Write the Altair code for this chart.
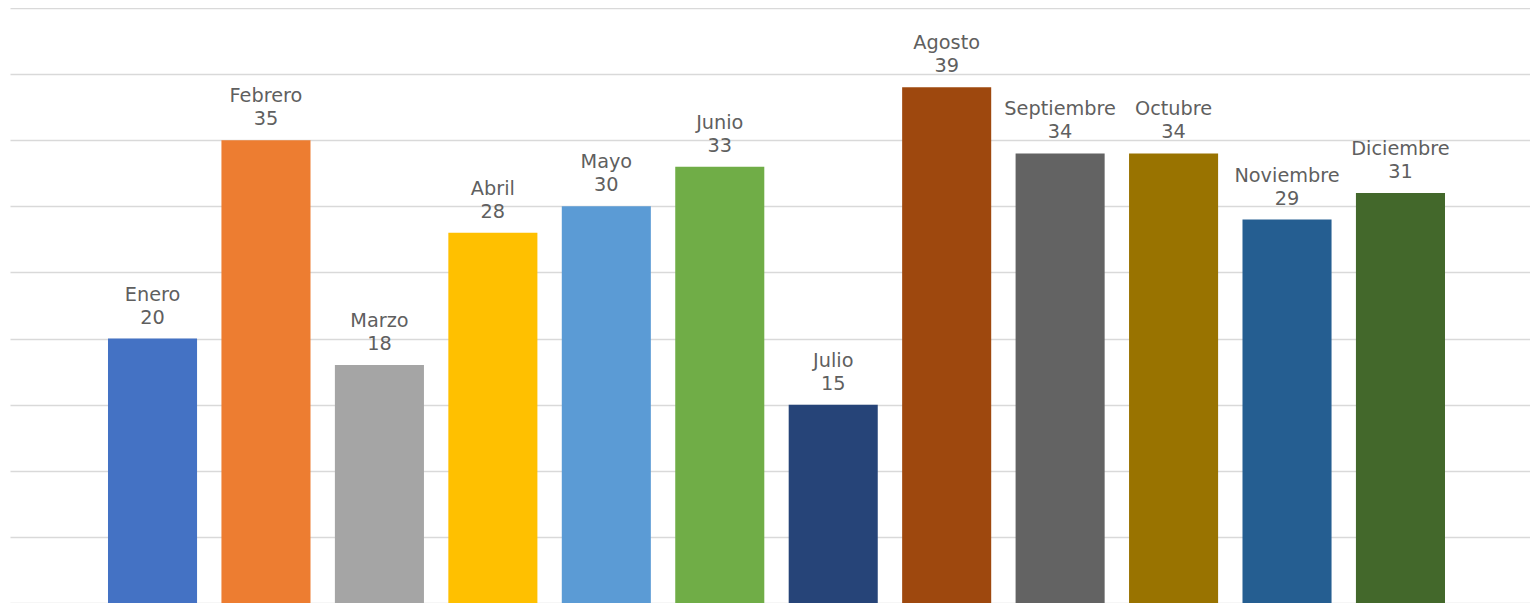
import altair as alt
import pandas as pd

months = ["Enero", "Febrero", "Marzo", "Abril", "Mayo", "Junio", "Julio",
          "Agosto", "Septiembre", "Octubre", "Noviembre", "Diciembre"]
values = [20, 35, 18, 28, 30, 33, 15, 39, 34, 34, 29, 31]
colors = ["#4472C4", "#ED7D31", "#A5A5A5", "#FFC000", "#5B9BD5", "#70AD47",
          "#264478", "#9E480E", "#636363", "#997300", "#255E91", "#43682B"]

df = pd.DataFrame({"mes": months, "valor": values})
df["etiqueta"] = df["mes"] + "\n" + df["valor"].astype(str)

x = alt.X("mes:N", sort=months,
          scale=alt.Scale(paddingInner=0.215, paddingOuter=0.8065, align=0.5355,
                          round=False),
          axis=None)
y = alt.Y("valor:Q", scale=alt.Scale(domain=[0, 45], nice=False),
          axis=alt.Axis(values=list(range(0, 50, 5)), labels=False, ticks=False,
                        domain=False, title=None, gridColor="#d9d9d9", gridWidth=1.6))

bars = alt.Chart(df).mark_bar().encode(
    x=x, y=y,
    color=alt.Color("mes:N", sort=months,
                    scale=alt.Scale(domain=months, range=colors), legend=None),
)

labels = alt.Chart(df).mark_text(
    baseline="bottom", dy=-34, fontSize=19.3, font="DejaVu Sans",
    color="#5f5f5f", lineBreak="\n", lineHeight=23
).encode(x=x, y=alt.Y("valor:Q"), text="etiqueta:N")

chart = alt.layer(bars, labels).properties(
    width=1520, height=595,
    padding={"left": 2, "top": 0, "right": 0, "bottom": 0},
    autosize=alt.AutoSizeParams(type="none"),
).configure_view(stroke=None)

chart.save("out.html", embed_options={"renderer": "svg", "actions": False})
